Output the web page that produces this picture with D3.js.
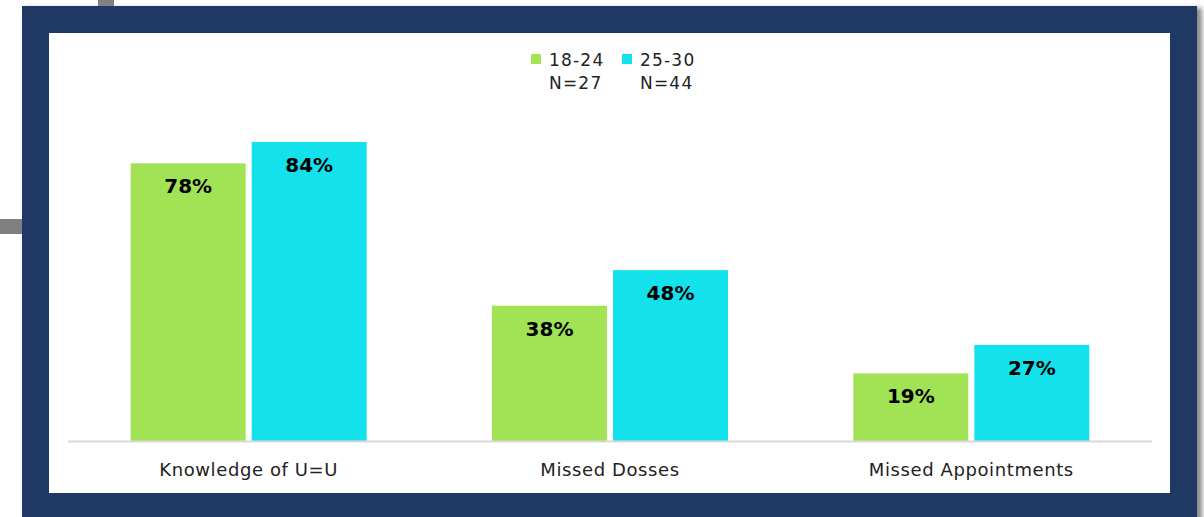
<!DOCTYPE html>
<html><head><meta charset="utf-8">
<script src="https://cdn.jsdelivr.net/npm/d3@7"></script>
<style>body{margin:0;background:#fff}svg{display:block}</style>
</head><body>
<svg id="c" width="1204" height="517"></svg>
<script>
const categories = ["Knowledge of U=U", "Missed Dosses", "Missed Appointments"];
const seriesNames = ["18-24", "25-30"];
const seriesN = ["N=27", "N=44"];
const values1824 = [78, 38, 19];
const values2530 = [84, 48, 27];
const colors = ["#A1E355", "#13E1EC"];

const svg = d3.select("#c");
const FONT = "'DejaVu Sans', sans-serif";

// decoration
svg.append("rect").attr("x",98).attr("y",0).attr("width",16).attr("height",8).attr("fill","#808080");
svg.append("rect").attr("x",0).attr("y",219).attr("width",24).attr("height",15).attr("fill","#808080");
const defs = svg.append("defs");
const f = defs.append("filter").attr("id","sh").attr("x","-5%").attr("y","-5%").attr("width","110%").attr("height","110%");
f.append("feGaussianBlur").attr("stdDeviation",2.5);
svg.append("rect").attr("x",26).attr("y",8).attr("width",1176).attr("height",520).attr("fill","#888").attr("filter","url(#sh)");
svg.append("rect").attr("x",22).attr("y",6).attr("width",1175).attr("height",520).attr("fill","#1F3864");
svg.append("rect").attr("x",49).attr("y",33).attr("width",1121).attr("height",460).attr("fill","#fff");

const x0 = d3.scaleBand().domain(categories).range([68,1152]).paddingInner(0).paddingOuter(0);
const groupW = 236;
const x1 = d3.scaleBand().domain(seriesNames).range([0,groupW]).paddingInner(0.05);
const y = d3.scaleLinear().domain([0,100]).range([441,85]);

const data = categories.map((c,i)=>({cat:c, vals:[values1824[i], values2530[i]]}));

const g = svg.append("g");
const grp = g.selectAll("g.grp").data(data).join("g")
  .attr("transform", d=>`translate(${x0(d.cat)+(x0.bandwidth()-groupW)/2},0)`);
grp.selectAll("rect").data(d=>d.vals.map((v,j)=>({v,s:seriesNames[j],j}))).join("rect")
  .attr("x", d=>x1(d.s)).attr("width", x1.bandwidth())
  .attr("y", d=>y(d.v)).attr("height", d=>y(0)-y(d.v))
  .attr("fill", d=>colors[d.j]);
grp.selectAll("text").data(d=>d.vals.map((v,j)=>({v,s:seriesNames[j],j}))).join("text")
  .attr("x", d=>x1(d.s)+x1.bandwidth()/2).attr("y", d=>y(d.v)+30)
  .attr("text-anchor","middle").attr("font-family",FONT).attr("font-weight","bold")
  .attr("font-size",20).attr("fill","#000").text(d=>d.v+"%");

// baseline
g.append("line").attr("x1",68).attr("x2",1152).attr("y1",y(0)+0.5).attr("y2",y(0)+0.5)
  .attr("stroke","#D9D9D9").attr("stroke-width",2);

// x axis labels
const ax = g.append("g").attr("transform",`translate(0,${y(0)})`)
  .call(d3.axisBottom(x0).tickSize(0).tickPadding(22));
ax.select(".domain").remove();
ax.selectAll("text").attr("font-family",FONT).attr("font-size",18).attr("letter-spacing","0.6px").attr("fill","#222");

// legend
const leg = svg.append("g");
const lx = [531, 622];
seriesNames.forEach((s,i)=>{
  leg.append("rect").attr("x",lx[i]).attr("y",54).attr("width",10).attr("height",10).attr("fill",colors[i]);
  leg.append("text").attr("x",lx[i]+18).attr("y",66).attr("font-family",FONT).attr("font-size",17).attr("letter-spacing","1.2px").attr("fill","#222").text(s);
  leg.append("text").attr("x",lx[i]+18).attr("y",89).attr("font-family",FONT).attr("font-size",17).attr("letter-spacing","1.2px").attr("fill","#222").text(seriesN[i]);
});
</script>
</body></html>
